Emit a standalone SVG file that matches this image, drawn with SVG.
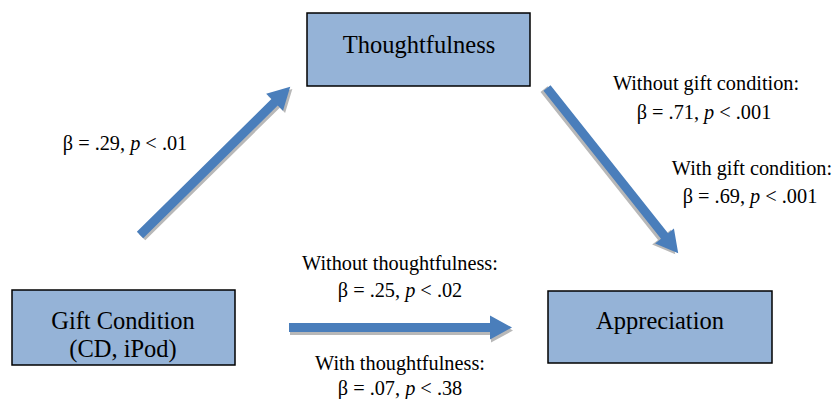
<svg xmlns="http://www.w3.org/2000/svg" width="833" height="399" viewBox="0 0 833 399">
<style>
.box{fill:#95b3d7;stroke:#000;stroke-width:1.5}
.t{font-family:"Liberation Serif","Times New Roman",serif;fill:#000;text-anchor:middle}
.big{font-size:24.5px}
.lab{font-size:20.3px}
.arr{fill:#4a7ebb}
.sh{fill:#b8b8b8}
</style>
<defs>
<path id="a211" d="M0,-4.5 H189 V-12 L211,0 L189,12 V4.5 H0 Z"/>
<path id="a223" d="M0,-4.5 H201 V-12 L223,0 L201,12 V4.5 H0 Z"/>
</defs>
<rect width="833" height="399" fill="#fff"/>
<g id="connectors">
<g transform="translate(140,235) rotate(-44.6)">
<use href="#a211" class="sh" transform="translate(0,3)"/>
<use href="#a211" class="arr"/>
</g>
<g transform="translate(547,88) rotate(51.55)">
<use href="#a211" class="sh" transform="translate(-1,3)"/>
<use href="#a211" class="arr"/>
</g>
<g transform="translate(289,327.5)">
<use href="#a223" class="sh" transform="translate(1,3)"/>
<use href="#a223" class="arr"/>
</g>
</g>
<g id="thoughtfulness">
<rect class="box" x="307" y="13" width="223" height="73"/>
<text class="t big" x="419" y="53">Thoughtfulness</text>
</g>
<g id="gift">
<rect class="box" x="12" y="290" width="223" height="75"/>
<text class="t big" x="123" y="329">Gift Condition</text>
<text class="t big" x="123" y="357">(CD, iPod)</text>
</g>
<g id="appreciation">
<rect class="box" x="548" y="291" width="224" height="72"/>
<text class="t big" x="660" y="329">Appreciation</text>
</g>
<g id="labels">
<text class="t lab" x="125" y="150">β = .29, <tspan font-style="italic">p</tspan> &lt; .01</text>
<text class="t lab" x="706" y="90">Without gift condition:</text>
<text class="t lab" x="704" y="119">β = .71, <tspan font-style="italic">p</tspan> &lt; .001</text>
<text class="t lab" x="752" y="175">With gift condition:</text>
<text class="t lab" x="750" y="203">β = .69, <tspan font-style="italic">p</tspan> &lt; .001</text>
<text class="t lab" x="400" y="270">Without thoughtfulness:</text>
<text class="t lab" x="400" y="297">β = .25, <tspan font-style="italic">p</tspan> &lt; .02</text>
<text class="t lab" x="400" y="370">With thoughtfulness:</text>
<text class="t lab" x="400" y="395">β = .07, <tspan font-style="italic">p</tspan> &lt; .38</text>
</g>
</svg>
